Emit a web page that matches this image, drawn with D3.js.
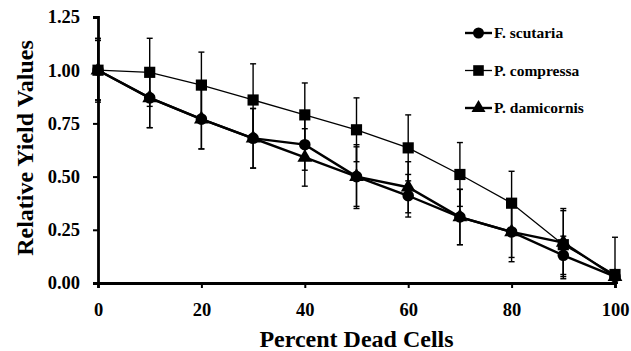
<!DOCTYPE html>
<html>
<head>
<meta charset="utf-8">
<script src="https://cdn.jsdelivr.net/npm/d3@7"></script>
<style>
  body { margin: 0; background: #fff; }
  text { font-family: "Liberation Serif", "DejaVu Serif", serif; font-weight: bold; fill: #000; }
</style>
</head>
<body>
<div id="chart"></div>
<script>
// percent dead cells
var deadCells = [0, 10, 20, 30, 40, 50, 60, 70, 80, 90, 100];
var xTicks = [0, 20, 40, 60, 80, 100];
var yTicks = [0, 0.25, 0.5, 0.75, 1.0, 1.25];

var scutaria   = [1.00, 0.87, 0.77, 0.68, 0.65, 0.50, 0.41, 0.31, 0.24, 0.13, 0.03];
var compressa  = [1.00, 0.99, 0.93, 0.86, 0.79, 0.72, 0.635, 0.51, 0.375, 0.18, 0.04];
var damicornis = [1.00, 0.87, 0.77, 0.68, 0.59, 0.50, 0.45, 0.31, 0.24, 0.19, 0.03];

var scutariaErr   = [0.14, 0.14, 0.14, 0.14, 0.12, 0.15, 0.10, 0.13, 0.14, 0.09, 0.03];
var compressaErr  = [0.15, 0.16, 0.155, 0.17, 0.15, 0.15, 0.155, 0.15, 0.15, 0.16, 0.175];
var damicornisErr = [0.14, 0.14, 0.14, 0.14, 0.135, 0.14, 0.12, 0.13, 0.12, 0.16, 0.03];

var seriesNames = ["F. scutaria", "P. compressa", "P. damicornis"];

var W = 631, H = 351;
var margin = {top: 17, right: 16, bottom: 68, left: 98},
    width = W - margin.left - margin.right,
    height = H - margin.top - margin.bottom;

var svg = d3.select("#chart").append("svg")
    .attr("width", W).attr("height", H);

var g = svg.append("g").attr("transform", "translate(" + margin.left + "," + margin.top + ")");

var x = d3.scaleLinear().domain([0, 100]).range([0, width]);
var y = d3.scaleLinear().domain([0, 1.25]).range([height, 0]);

var series = [
  {name: seriesNames[0], vals: scutaria, err: scutariaErr, shape: d3.symbolCircle, size: 105, lw: 2.4},
  {name: seriesNames[1], vals: compressa, err: compressaErr, shape: d3.symbolSquare, size: 125, lw: 1.3},
  {name: seriesNames[2], vals: damicornis, err: damicornisErr, shape: d3.symbolTriangle, size: 95, lw: 2.4}
];

// error bars first
series.forEach(function(s){
  var eb = g.append("g");
  deadCells.forEach(function(d, i){
    var lo = Math.max(0, s.vals[i] - s.err[i]), hi = s.vals[i] + s.err[i];
    eb.append("line").attr("x1", x(d)).attr("x2", x(d)).attr("y1", y(lo)).attr("y2", y(hi))
      .attr("stroke", "#000").attr("stroke-width", 1.4);
    [lo, hi].forEach(function(v){
      eb.append("line").attr("x1", x(d) - 3).attr("x2", x(d) + 3).attr("y1", y(v)).attr("y2", y(v))
        .attr("stroke", "#000").attr("stroke-width", 1.4);
    });
  });
});

// axes
var yAxis = d3.axisLeft(y).tickValues(yTicks).tickFormat(d3.format(".2f")).tickSize(5).tickPadding(13);
var xAxis = d3.axisBottom(x).tickValues(xTicks).tickFormat(d3.format("d")).tickSize(5).tickPadding(15);

var ya = g.append("g").call(yAxis);
var xa = g.append("g").attr("transform", "translate(0," + height + ")").call(xAxis);
[ya, xa].forEach(function(a){
  a.select(".domain").attr("stroke-width", 2.8);
  a.selectAll(".tick line").attr("stroke-width", 2);
  a.selectAll("text").style("font-size", "18.5px").style("font-family", "Liberation Serif").style("font-weight", "bold");
});

// lines and markers
var line = d3.line().x(function(d){ return x(d[0]); }).y(function(d){ return y(d[1]); });
series.forEach(function(s){
  var pts = deadCells.map(function(d, i){ return [d, s.vals[i]]; });
  g.append("path").datum(pts).attr("d", line).attr("fill", "none")
    .attr("stroke", "#000").attr("stroke-width", s.lw);
  g.selectAll(null).data(pts).enter().append("path")
    .attr("d", d3.symbol().type(s.shape).size(s.size))
    .attr("transform", function(d){ return "translate(" + x(d[0]) + "," + y(d[1]) + ")"; })
    .attr("fill", "#000");
});

// legend
var leg = svg.append("g").attr("transform", "translate(465,33)");
series.forEach(function(s, i){
  var row = leg.append("g").attr("transform", "translate(0," + (i * 37.5) + ")");
  row.append("line").attr("x1", 0).attr("x2", 27).attr("stroke", "#000").attr("stroke-width", s.lw);
  row.append("path").attr("d", d3.symbol().type(s.shape).size(s.size * 0.9)).attr("transform", "translate(13.5,0)");
  row.append("text").attr("x", 29).attr("y", 5).style("font-size", "15.5px").text(s.name);
});

// axis titles
svg.append("text").attr("x", margin.left + width / 2).attr("y", 347)
  .attr("text-anchor", "middle").style("font-size", "24px").text("Percent Dead Cells");
svg.append("text").attr("transform", "translate(33,148) rotate(-90)")
  .attr("text-anchor", "middle").style("font-size", "24px").text("Relative Yield Values");
</script>
</body>
</html>
